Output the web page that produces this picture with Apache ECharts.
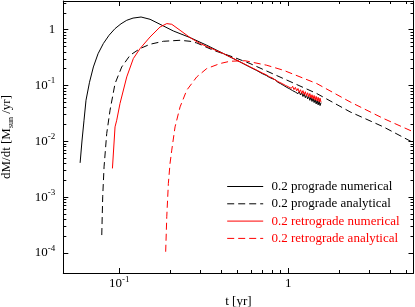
<!DOCTYPE html>
<html><head><meta charset="utf-8">
<script src="https://cdn.jsdelivr.net/npm/echarts@6/dist/echarts.min.js"></script>
<style>html,body{margin:0;padding:0;background:#fff}#c{width:415px;height:307px}</style>
</head><body><div id="c"></div>
<script>
const FONT = 'Liberation Serif';
const seriesNames = ['0.2 prograde numerical','0.2 prograde analytical','0.2 retrograde numerical','0.2 retrograde analytical'];
const seriesColors = ['#000000','#000000','#ff0000','#ff0000'];

const progradeNumerical = [
  [0.0586,0.0041],[0.0601,0.0101],[0.0618,0.0238],[0.0635,0.0543],[0.0666,0.114],[0.0702,0.214],
  [0.0748,0.369],[0.0804,0.562],[0.0869,0.791],[0.0943,1.042],[0.1023,1.27],[0.1106,1.467],
  [0.1205,1.606],[0.1344,1.68],[0.1519,1.529],[0.1741,1.244],[0.2087,0.944],[0.262,0.719],
  [0.329,0.524],[0.4125,0.372],[0.5178,0.263],[0.60,0.209],[0.65,0.185],[0.70,0.163],
  [0.74,0.151],[0.77,0.140],
  [0.80,0.133],[0.82,0.1255],[0.84,0.1258],[0.86,0.1153],[0.88,0.117],[0.90,0.1074],
  [0.92,0.1102],[0.94,0.0994],[0.96,0.1021],[0.98,0.0921],[1.00,0.0967],[1.02,0.0865],
  [1.04,0.0918],[1.06,0.0806],[1.08,0.0857],[1.10,0.0760],[1.12,0.0825],[1.14,0.0711],
  [1.16,0.0774],[1.18,0.0674],[1.20,0.0741],[1.22,0.0633],[1.24,0.0705],[1.26,0.0602],
  [1.28,0.0676],[1.30,0.0573],[1.32,0.0638],[1.34,0.0541],[1.36,0.0616],[1.38,0.0516],
  [1.40,0.0588],[1.42,0.0493],[1.44,0.0562],[1.46,0.0467],[1.48,0.0538],[1.50,0.0448],
  [1.52,0.0522],[1.54,0.0435],[1.56,0.0491]
];
const progradeAnalytical = [
  [0.0787,0.000209],[0.0797,0.00101],[0.0812,0.00348],[0.0842,0.0138],[0.0881,0.036],
  [0.0943,0.108],[0.1033,0.214],[0.1157,0.347],[0.1326,0.457],[0.1519,0.546],[0.1822,0.617],
  [0.2287,0.643],[0.262,0.617],[0.287,0.576],[0.36,0.426],[0.471,0.323],[0.5935,0.2465],
  [0.934,0.1328],[1.472,0.0716],[2.318,0.0336],[3.649,0.0181],[5.5,0.0094]
];
const retrogradeNumerical = [
  [0.091,0.00326],[0.0943,0.0181],[0.0965,0.0238],[0.1009,0.0475],[0.1106,0.142],[0.121,0.303],
  [0.1326,0.457],[0.1519,0.737],[0.1741,1.113],[0.1908,1.28],[0.2042,1.244],[0.2287,0.972],
  [0.262,0.719],[0.3003,0.562],[0.4125,0.372],[0.5178,0.265],[0.60,0.211],[0.65,0.188],
  [0.70,0.167],[0.74,0.155],[0.77,0.143],
  [0.80,0.137],[0.82,0.1363],[0.84,0.1239],[0.86,0.1274],[0.88,0.1148],[0.90,0.1204],
  [0.92,0.1077],[0.94,0.1132],[0.96,0.1003],[0.98,0.1076],[1.00,0.0947],[1.02,0.1017],
  [1.04,0.0886],[1.06,0.0964],[1.08,0.0840],[1.10,0.0923],[1.12,0.0799],[1.14,0.0879],
  [1.16,0.0752],[1.18,0.0837],[1.20,0.0718],[1.22,0.0807],[1.24,0.0686],[1.26,0.0772],
  [1.28,0.0649],[1.30,0.0739],[1.32,0.0622],[1.34,0.0715],[1.36,0.0598],[1.38,0.0681],
  [1.40,0.0574],[1.42,0.0660],[1.44,0.0545],[1.46,0.0636],[1.48,0.0526],[1.50,0.0613],
  [1.52,0.0508],[1.54,0.0592],[1.56,0.0500]
];
const retrogradeAnalytical = [
  [0.188,0.000105],[0.1908,0.000444],[0.195,0.00176],[0.1995,0.00401],[0.2042,0.00693],
  [0.2136,0.0181],[0.2287,0.0412],[0.2504,0.082],[0.287,0.142],[0.329,0.2006],[0.3944,0.2465],
  [0.4519,0.271],[0.5544,0.2766],[0.745,0.2298],[0.934,0.187],[1.472,0.108],[2.318,0.0507],
  [3.649,0.0256],[5.5,0.0147]
];

const xMajorTicks = [0.1, 1];
const xMinorTicks = [0.2,0.3,0.4,0.5,0.6,0.7,0.8,0.9,2,3,4,5];
const yMajorTicks = [0.0001,0.001,0.01,0.1,1];
const yMinorTicks = [0.0002,0.0003,0.0004,0.0005,0.0006,0.0007,0.0008,0.0009,
  0.002,0.003,0.004,0.005,0.006,0.007,0.008,0.009,
  0.02,0.03,0.04,0.05,0.06,0.07,0.08,0.09,
  0.2,0.3,0.4,0.5,0.6,0.7,0.8,0.9,2,3];

const X_MIN = 0.0466, X_MAX = 5.5, Y_MIN = 0.0000437, Y_MAX = 3.25;

function powLabel(v) {
  const e = Math.round(Math.log10(v));
  if (e === 0) return '{b|1}';
  return '{b|10}{s|' + e + '}';
}
const labelRich = {
  b: {fontFamily: FONT, fontSize: 13, lineHeight: 18, color: '#000'},
  s: {fontFamily: FONT, fontSize: 9, lineHeight: 10, verticalAlign: 'top', color: '#000'}
};

function xAxisDef(position, ticks, len, showLine, labels) {
  return {
    type: 'log', position: position, min: X_MIN, max: X_MAX, logBase: 10,
    axisLine: {show: showLine, onZero: false, lineStyle: {color: '#000', width: 1}},
    axisTick: {show: true, inside: true, length: len, customValues: ticks, lineStyle: {color: '#000', width: 1}},
    axisLabel: labels ? {show: true, customValues: xMajorTicks, margin: 2, formatter: powLabel, rich: labelRich} : {show: false},
    splitLine: {show: false}, minorTick: {show: false}
  };
}
function yAxisDef(position, ticks, len, showLine, labels) {
  return {
    type: 'log', position: position, min: Y_MIN, max: Y_MAX, logBase: 10,
    axisLine: {show: showLine, onZero: false, lineStyle: {color: '#000', width: 1}},
    axisTick: {show: true, inside: true, length: len, customValues: ticks, lineStyle: {color: '#000', width: 1}},
    axisLabel: labels ? {show: true, customValues: yMajorTicks, margin: 8, formatter: powLabel, rich: labelRich} : {show: false},
    splitLine: {show: false}, minorTick: {show: false}
  };
}

const xAxes = [
  xAxisDef('bottom', xMajorTicks, 5, true, true),
  xAxisDef('bottom', xMinorTicks, 3, false, false),
  xAxisDef('top', xMajorTicks, 5, true, false),
  xAxisDef('top', xMinorTicks, 3, false, false)
];
xAxes[0].name = 't [yr]';
xAxes[0].nameLocation = 'middle';
xAxes[0].nameGap = 21;
xAxes[0].nameTextStyle = {fontFamily: FONT, fontSize: 13, color: '#000'};

const yAxes = [
  yAxisDef('left', yMajorTicks, 5, true, true),
  yAxisDef('left', yMinorTicks, 3, false, false),
  yAxisDef('right', yMajorTicks, 5, true, false),
  yAxisDef('right', yMinorTicks, 3, false, false)
];
yAxes[0].name = '{n|dM/dt [M}{sub|sun}{n| /yr]}';
yAxes[0].nameLocation = 'middle';
yAxes[0].nameGap = 48;
yAxes[0].nameTextStyle = {fontFamily: FONT, fontSize: 13, color: '#000', rich: {
  n: {fontFamily: FONT, fontSize: 13, lineHeight: 18, color: '#000'},
  sub: {fontFamily: FONT, fontSize: 8, lineHeight: 10, verticalAlign: 'bottom', color: '#000'}
}};

const dataSets = [progradeNumerical, progradeAnalytical, retrogradeNumerical, retrogradeAnalytical];
const dashed = [false, true, false, true];

const chart = echarts.init(document.getElementById('c'), null, {renderer: 'canvas'});
chart.setOption({
  animation: false,
  backgroundColor: '#fff',
  grid: {left: 63.3, right: 1.5, top: 1, bottom: 34, containLabel: false, outerBoundsMode: 'none'},
  xAxis: xAxes,
  yAxis: yAxes,
  legend: {
    orient: 'vertical', left: 226.7, top: 180, padding: 0,
    itemWidth: 36, itemHeight: 14, itemGap: 4.3,
    itemStyle: {opacity: 0},
    lineStyle: {width: 1},
    textStyle: {fontFamily: FONT, fontSize: 13},
    formatter: function (n) { return ' ' + n; },
    data: seriesNames.map(function (n, i) { return {name: n, textStyle: {color: seriesColors[i]}}; })
  },
  series: dataSets.map(function (d, i) {
    return {
      name: seriesNames[i], type: 'line', data: d, xAxisIndex: 0, yAxisIndex: 0,
      symbol: 'none', showSymbol: false, smooth: false, clip: true,
      lineStyle: {color: seriesColors[i], width: 1, type: dashed[i] ? [7, 4] : 'solid'},
      itemStyle: {color: seriesColors[i]},
      z: i < 2 ? 2 : 3
    };
  })
});
</script>
</body></html>
